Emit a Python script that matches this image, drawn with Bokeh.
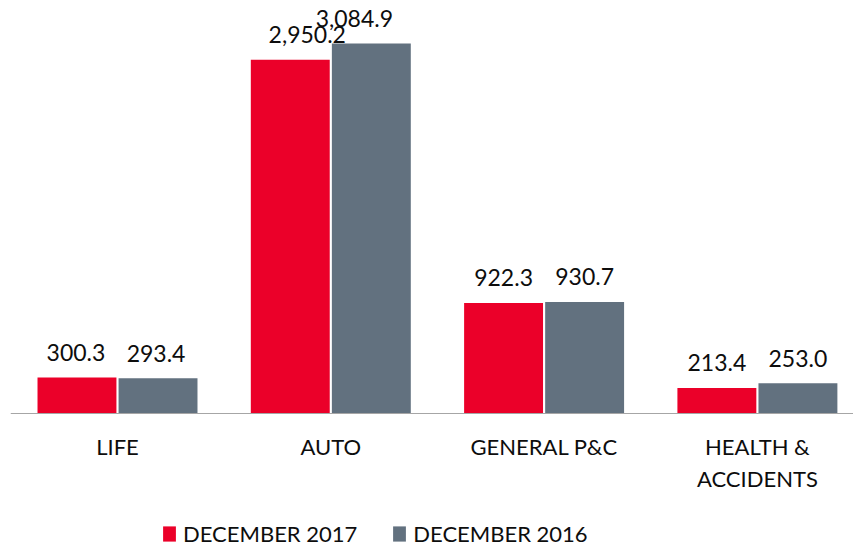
from bokeh.plotting import figure
from bokeh.models import ColumnDataSource, Range1d, Span, Legend, LegendItem
from bokeh.core.properties import value
from bokeh.embed import file_html
from bokeh.resources import INLINE
import numpy as np

categories = ["LIFE", "AUTO", "GENERAL P&C", "HEALTH &\nACCIDENTS"]
dec_2017 = [300.3, 2950.2, 922.3, 213.4]
dec_2016 = [293.4, 3084.9, 930.7, 253.0]
series_names = ["DECEMBER 2017", "DECEMBER 2016"]

# label nudges (screen px) to avoid overlap, as in the original
dx_2017 = [-1, 17, 0, 0]
dx_2016 = [-2, -17, 0, 0]

RED = "#EB0029"
GRAY = "#62717F"
FONT = "Lato"

W, H = 853, 547
BASE = 413            # baseline position in px from top
PPU = 0.1199          # px per unit
CAT_PX = 213.3        # px per category
LEFT = 10
FIRST = 117 - LEFT    # first category center in frame px

x = np.arange(len(categories))
src = ColumnDataSource(dict(
    x=x, cat=categories, a=dec_2017, b=dec_2016,
    la=[f"{v:,.1f}" for v in dec_2017], lb=[f"{v:,.1f}" for v in dec_2016],
    dxa=dx_2017, dxb=dx_2016,
    xa=x - 0.19, xb=x + 0.19,
))

fw = W - LEFT
p = figure(width=W, height=H, output_backend="svg", toolbar_location=None,
           x_range=Range1d(-FIRST / CAT_PX, (fw - FIRST) / CAT_PX),
           y_range=Range1d(-(H - BASE) / PPU, BASE / PPU),
           min_border_left=LEFT, min_border_right=0, min_border_top=0, min_border_bottom=0)
p.axis.visible = False
p.grid.visible = False
p.outline_line_color = None
p.background_fill_color = "white"

ra = p.vbar(x="xa", top="a", bottom=0, width=0.37, source=src, fill_color=RED, line_color=None)
rb = p.vbar(x="xb", top="b", bottom=0, width=0.37, source=src, fill_color=GRAY, line_color=None)

p.add_layout(Span(location=0, dimension="width", line_color="#A6A6A6", line_width=1))

common = dict(text_font=value(FONT), text_font_size="23px", text_color="#0D0D0D",
              text_align="center", text_baseline="alphabetic", y_offset=-25)
p.text(x="xa", y="a", text="la", x_offset="dxa", source=src, **common)
p.text(x="xb", y="b", text="lb", x_offset="dxb", source=src, **common)

p.text(x="x", y=0, text="cat", source=src, text_font=value(FONT), text_font_size="22px",
       text_color="#0D0D0D", text_align="center", text_baseline="top", y_offset=19,
       text_line_height=1.22)

legend = Legend(items=[LegendItem(label=series_names[0], renderers=[ra]),
                       LegendItem(label=series_names[1], renderers=[rb])],
                orientation="horizontal", location=(161 - LEFT, 0),
                glyph_width=16, glyph_height=19, label_standoff=6, spacing=34,
                padding=0, margin=0, border_line_color=None, background_fill_alpha=0,
                label_text_font=FONT, label_text_font_size="22px", label_text_color="#0D0D0D")
p.add_layout(legend)

open("out.html", "w").write(file_html(p, INLINE))
